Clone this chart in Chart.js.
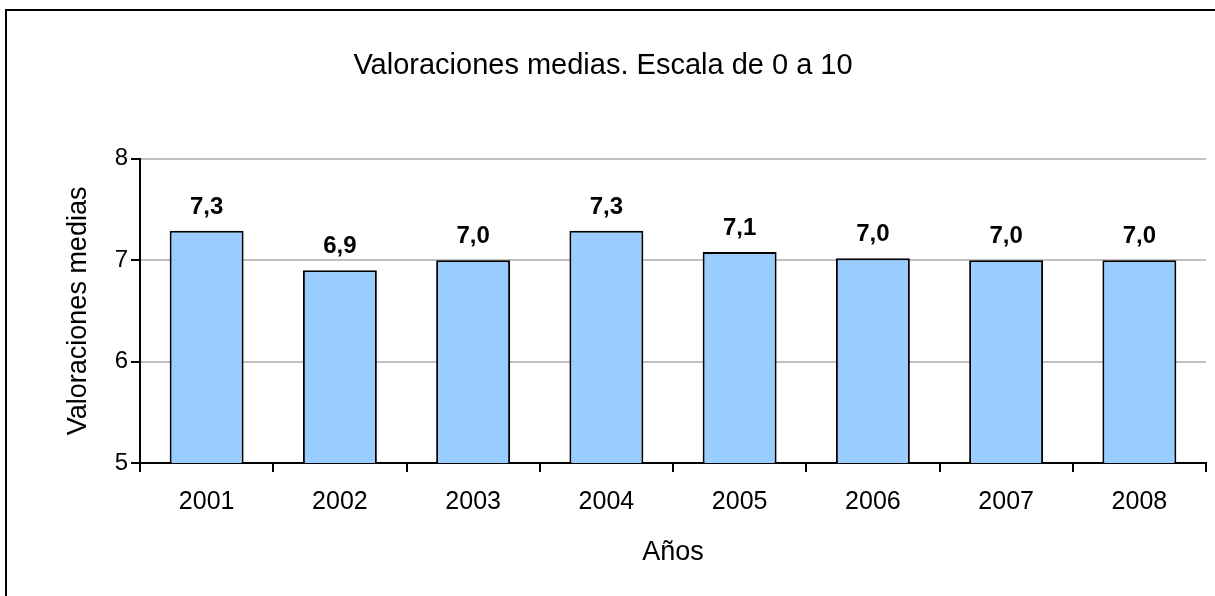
<!DOCTYPE html>
<html>
<head>
<meta charset="utf-8">
<script src="https://cdn.jsdelivr.net/npm/chart.js@4/dist/chart.umd.min.js"></script>
<style>
    html, body { margin: 0; padding: 0; background: #fff; overflow: hidden; }
    #wrap { position: relative; width: 1215px; height: 596px; }
    #frame { position: absolute; left: 5px; top: 9px; width: 1300px; height: 700px;
             border-left: 2px solid #000; border-top: 2px solid #000; }
    canvas { position: absolute; left: 0; top: 0; }
</style>
</head>
<body>
<div id="wrap">
    <div id="frame"></div>
    <canvas id="chart" width="1215" height="596"></canvas>
</div>
<script>
const years = ['2001', '2002', '2003', '2004', '2005', '2006', '2007', '2008'];
const valoraciones = [7.29, 6.9, 7.0, 7.29, 7.08, 7.02, 7.0, 7.0];
const yTicks = [5, 6, 7, 8];

const FONT = "'Liberation Sans', Arial, Helvetica, sans-serif";

// values on top of the bars, spanish decimal comma
const barValues = {
    id: 'barValues',
    afterDatasetsDraw(chart) {
        const ctx = chart.ctx;
        const meta = chart.getDatasetMeta(0);
        ctx.save();
        ctx.font = 'bold 24px ' + FONT;
        ctx.fillStyle = '#000';
        ctx.textAlign = 'center';
        ctx.textBaseline = 'alphabetic';
        meta.data.forEach((bar, i) => {
            const txt = valoraciones[i].toFixed(1).replace('.', ',');
            ctx.fillText(txt, bar.x, bar.y - 17);
        });
        ctx.restore();
    }
};

new Chart(document.getElementById('chart'), {
    type: 'bar',
    data: {
        labels: years,
        datasets: [{
            data: valoraciones,
            backgroundColor: '#99CCFF',
            borderColor: '#000',
            borderWidth: 2,
            categoryPercentage: 1,
            barPercentage: 0.555,
        }]
    },
    options: {
        responsive: false,
        animation: false,
        layout: {
            padding: {left: 0, right: 9, top: 0, bottom: 0}
        },
        plugins: {
            legend: {display: false},
            tooltip: {enabled: false},
            title: {
                display: true,
                text: 'Valoraciones medias. Escala de 0 a 10',
                color: '#000',
                font: {family: FONT, size: 29, weight: 'normal'},
                padding: {top: 49, bottom: 75}
            }
        },
        scales: {
            x: {
                afterFit(scale) { scale.height = 133; },
                grid: {
                    offset: true,
                    lineWidth: 2,
                    tickLength: 9,
                    tickColor: '#000',
                    color: (c) => c.index === years.length ? '#c0c0c0' : 'rgba(0,0,0,0)',
                },
                border: {color: '#000', width: 2},
                ticks: {
                    color: '#000',
                    font: {family: FONT, size: 25},
                    padding: 15,
                    maxRotation: 0,
                },
                title: {
                    display: true,
                    text: 'Años',
                    color: '#000',
                    font: {family: FONT, size: 27},
                    padding: {top: 0, bottom: 27}
                }
            },
            y: {
                min: 5,
                max: 8,
                afterFit(scale) { scale.width = 140; },
                afterBuildTicks(scale) { scale.ticks = yTicks.map(v => ({value: v})); },
                grid: {
                    lineWidth: 2,
                    tickLength: 9,
                    tickColor: '#000',
                    color: '#c0c0c0',
                },
                border: {color: '#000', width: 2},
                ticks: {
                    color: '#000',
                    font: {family: FONT, size: 24},
                    padding: 3,
                },
                title: {
                    display: true,
                    text: 'Valoraciones medias',
                    color: '#000',
                    font: {family: FONT, size: 27},
                    padding: {top: 62, bottom: 0}
                }
            }
        }
    },
    plugins: [barValues]
});
</script>
</body>
</html>
